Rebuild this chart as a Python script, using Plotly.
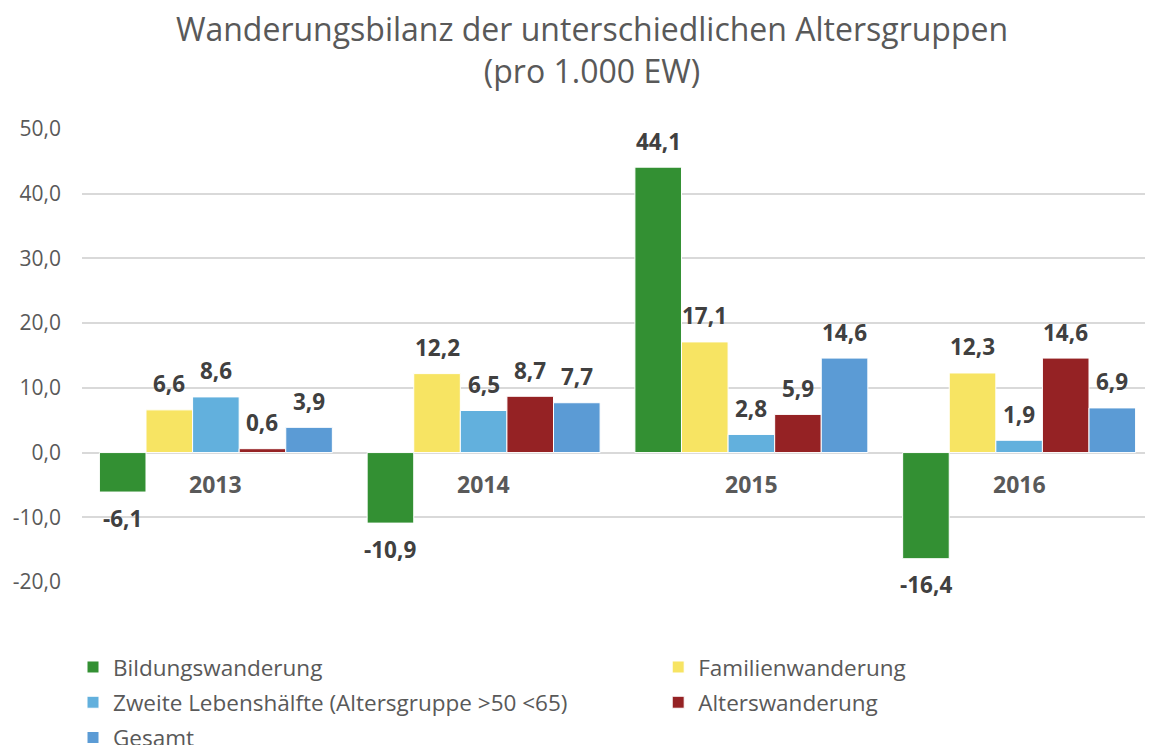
import plotly.graph_objects as go

years = ["2013", "2014", "2015", "2016"]
series_names = [
    "Bildungswanderung",
    "Familienwanderung",
    "Zweite Lebenshälfte (Altersgruppe >50 <65)",
    "Alterswanderung",
    "Gesamt",
]
bildung = [-6.1, -10.9, 44.1, -16.4]
familie = [6.6, 12.2, 17.1, 12.3]
zweite = [8.6, 6.5, 2.8, 1.9]
alter = [0.6, 8.7, 5.9, 14.6]
gesamt = [3.9, 7.7, 14.6, 6.9]
colors = ["#339033", "#F7E463", "#62B0DD", "#952224", "#5B9BD5"]
legend_column = ["legend", "legend2", "legend", "legend2", "legend"]
tick_vals = [-20, -10, 0, 10, 20, 30, 40, 50]
tick_text = ["-20,0", "-10,0", "0,0", "10,0", "20,0", "30,0", "40,0", "50,0"]

all_series = [bildung, familie, zweite, alter, gesamt]

# page has an 8px body margin, so the figure is slightly smaller than the window
W, H = 1145, 737
ML, MR, MT, MB = 74, 0, 121, 163
BARGAP = 0.13
plot_w = W - ML - MR
bar_px = plot_w / len(years) * (1 - BARGAP) / len(all_series)

fig = go.Figure()
for name, vals, col, lg in zip(series_names, all_series, colors, legend_column):
    fig.add_trace(go.Bar(
        x=years, y=vals, name=name, legend=lg, legendgroup=name,
        marker=dict(color=col, line=dict(color="white", width=1)),
    ))

annotations = []
n = len(all_series)
for i, vals in enumerate(all_series):
    shift = (i - (n - 1) / 2) * bar_px
    for k, v in enumerate(vals):
        annotations.append(dict(
            x=k, y=v, xref="x", yref="y",
            text=f"{v:.1f}".replace(".", ","),
            showarrow=False, xshift=shift,
            yshift=26 if v >= 0 else -26,
            yanchor="middle",
            font=dict(family="Open Sans", size=22.5, color="#404040", weight="bold"),
        ))
for k, yr in enumerate(years):
    annotations.append(dict(
        x=k, y=0, xref="x", yref="y", text=yr, showarrow=False,
        yshift=-31, yanchor="middle",
        font=dict(family="Open Sans", size=23, color="#595959", weight="bold"),
    ))

legend_style = dict(
    orientation="v", yanchor="top", xanchor="left", itemwidth=30,
    tracegroupgap=3, maxheight=300, traceorder="grouped",
    font=dict(family="Open Sans", size=22.5, color="#595959"),
    bgcolor="rgba(0,0,0,0)",
)

fig.update_layout(
    width=W, height=H,
    margin=dict(l=ML, r=MR, t=MT, b=MB, autoexpand=False),
    paper_bgcolor="white", plot_bgcolor="white",
    separators=",.",
    barmode="group", bargap=BARGAP, bargroupgap=0,
    title=dict(
        text="Wanderungsbilanz der unterschiedlichen Altersgruppen<br>(pro 1.000 EW)",
        x=584 / W, xanchor="center", xref="container",
        y=1 - 33 / H, yanchor="top", yref="container",
        font=dict(family="Open Sans", size=32, color="#595959"),
    ),
    xaxis=dict(type="category", range=[-0.5, len(years) - 0.5],
               showticklabels=False, showgrid=False,
               zeroline=False, showline=False, ticks=""),
    yaxis=dict(range=[-20, 50], tickvals=tick_vals, ticktext=tick_text,
               showgrid=True, gridcolor="#D9D9D9", gridwidth=1.5,
               zeroline=True, zerolinecolor="#D9D9D9", zerolinewidth=1.5,
               showline=False, ticks="", ticklabelstandoff=20,
               tickfont=dict(family="Open Sans", size=21, color="#595959")),
    legend=dict(x=-0.0084, y=-0.141, **legend_style),
    legend2=dict(x=0.538, y=-0.141, **legend_style),
    annotations=annotations,
)

fig.write_html("out.html")
